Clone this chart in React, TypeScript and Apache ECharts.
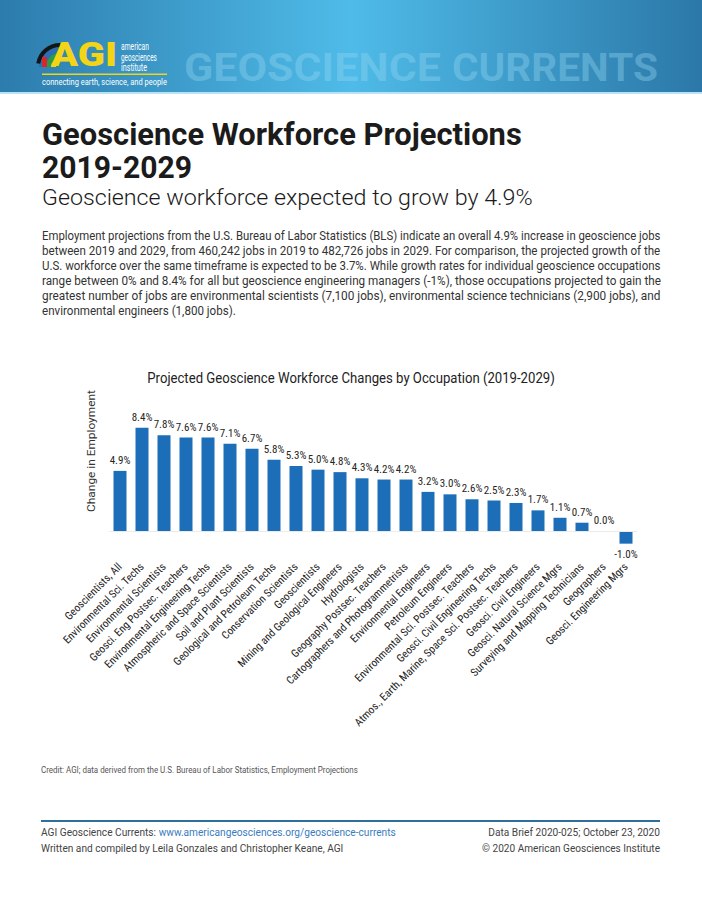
import React, { useEffect, useRef } from 'react';
import * as echarts from 'echarts';

// ---- data ----
const occupations = [
  'Geoscientists, All',
  'Environmental Sci. Techs',
  'Environmental Scientists',
  'Geosci. Eng Postsec. Teachers',
  'Environmental Engineering Techs',
  'Atmospheric and Space Scientists',
  'Soil and Plant Scientists',
  'Geological and Petroleum Techs',
  'Conservation Scientists',
  'Geoscientists',
  'Mining and Geological Engineers',
  'Hydrologists',
  'Geography Postsec. Teachers',
  'Cartographers and Photogrammetrists',
  'Environmental Engineers',
  'Petroleum Engineers',
  'Environmental Sci. Postsec. Teachers',
  'Geosci. Civil Engineering Techs',
  'Atmos., Earth, Marine, Space Sci. Postsec. Teachers',
  'Geosci. Civil Engineers',
  'Geosci. Natural Science Mgrs',
  'Surveying and Mapping Technicians',
  'Geographers',
  'Geosci. Engineering Mgrs',
];

const changePct = [
  4.9, 8.4, 7.8, 7.6, 7.6, 7.1, 6.7, 5.8, 5.3, 5.0, 4.8, 4.3,
  4.2, 4.2, 3.2, 3.0, 2.6, 2.5, 2.3, 1.7, 1.1, 0.7, 0.0, -1.0,
];

const pageTitle = ['Geoscience Workforce Projections', '2019-2029'];
const pageSubtitle = 'Geoscience workforce expected to grow by 4.9%';
const bodyLines = [
  'Employment projections from the U.S. Bureau of Labor Statistics (BLS) indicate an overall 4.9% increase in geoscience jobs',
  'between 2019 and 2029, from 460,242 jobs in 2019 to 482,726 jobs in 2029. For comparison, the projected growth of the',
  'U.S. workforce over the same timeframe is expected to be 3.7%. While growth rates for individual geoscience occupations',
  'range between 0% and 8.4% for all but geoscience engineering managers (-1%), those occupations projected to gain the',
  'greatest number of jobs are environmental scientists (7,100 jobs), environmental science technicians (2,900 jobs), and',
  'environmental engineers (1,800 jobs).',
];
const chartTitle = 'Projected Geoscience Workforce Changes by Occupation (2019-2029)';
const yAxisName = 'Change in Employment';
const creditText = 'Credit: AGI; data derived from the U.S. Bureau of Labor Statistics, Employment Projections';
const footerLeft = ['AGI Geoscience Currents: ', 'www.americangeosciences.org/geoscience-currents'];
const footerLeft2 = 'Written and compiled by Leila Gonzales and Christopher Keane, AGI';
const footerRight = ['Data Brief 2020-025; October 23, 2020', '\u00a9 2020 American Geosciences Institute'];

// ---- styling ----
const W = 702;
const H = 908;
const BAR_BLUE = '#1d6eb9';
const NARROW = "'Roboto Condensed','Liberation Sans Narrow','Arial Narrow',Roboto,sans-serif";

let measureCtx: CanvasRenderingContext2D | null = null;
function textWidth(text: string, font: string): number {
  if (!measureCtx) measureCtx = document.createElement('canvas').getContext('2d');
  measureCtx!.font = font;
  return measureCtx!.measureText(text).width;
}

type TOpts = {
  size: number;
  weight?: string | number;
  color?: string;
  family?: string;
  align?: 'left' | 'center' | 'right';
  fit?: number;
  scale?: number;
  rotation?: number;
  opacity?: number;
};

function fitScale(text: string, o: TOpts): number {
  const family = o.family ?? 'Roboto';
  const weight = o.weight ?? 'normal';
  if (!o.fit) return o.scale ?? 1;
  return o.fit / textWidth(text, `${weight} ${o.size}px ${family}`);
}

function txt(text: string, x: number, y: number, o: TOpts): any {
  return {
    type: 'text',
    x,
    y,
    scaleX: fitScale(text, o),
    rotation: o.rotation ?? 0,
    silent: true,
    style: {
      text,
      x: 0,
      y: 0,
      fill: o.color ?? '#222',
      fontSize: o.size,
      fontFamily: o.family ?? 'Roboto',
      fontWeight: o.weight ?? 'normal',
      align: o.align ?? 'left',
      verticalAlign: 'middle',
      opacity: o.opacity ?? 1,
    },
  };
}

function buildHeader(): any[] {
  const els: any[] = [];
  els.push({
    type: 'rect',
    shape: { x: 0, y: 0, width: W, height: 93 },
    silent: true,
    style: {
      fill: new echarts.graphic.LinearGradient(0, 0, 1, 0, [
        { offset: 0, color: '#2c7cad' },
        { offset: 0.5, color: '#4fbbe8' },
        { offset: 1, color: '#2b78a8' },
      ]),
    },
  });
  els.push({
    type: 'rect',
    shape: { x: 0, y: 92, width: W, height: 2 },
    silent: true,
    style: { fill: '#b9e3f4' },
  });
  // masthead words
  els.push(txt('GEOSCIENCE', 184, 68, { size: 38, weight: 'bold', color: 'rgba(150,215,242,0.38)', fit: 257 }));
  els.push(txt('CURRENTS', 452, 68, { size: 38, weight: 'bold', color: 'rgba(150,215,242,0.38)', fit: 206 }));

  // emblem
  els.push({ type: 'sector', silent: true, shape: { cx: 60, cy: 67, r: 21, r0: 0, startAngle: Math.PI, endAngle: Math.PI * 1.5 }, style: { fill: '#2a6fb4' } });
  els.push({ type: 'sector', silent: true, shape: { cx: 60, cy: 67, r: 24, r0: 20, startAngle: Math.PI * 1.05, endAngle: Math.PI * 1.5 }, style: { fill: '#151515' } });
  els.push({ type: 'sector', silent: true, shape: { cx: 60, cy: 67, r: 14, r0: 0, startAngle: Math.PI, endAngle: Math.PI * 1.5 }, style: { fill: '#2f9a48' } });
  els.push({ type: 'sector', silent: true, shape: { cx: 60, cy: 67, r: 9, r0: 4, startAngle: Math.PI, endAngle: Math.PI * 1.5 }, style: { fill: '#f2d21c' } });
  els.push({ type: 'rect', silent: true, shape: { x: 42, y: 57, width: 5, height: 10 }, style: { fill: '#d8262b' } });

  // AGI wordmark
  els.push(txt('AGI', 51, 55, { size: 34, weight: 900, color: '#f4d417', fit: 66 }));
  els.push(txt('american', 121, 46.5, { size: 10, color: '#ffffff', fit: 28 }));
  els.push(txt('geosciences', 121, 57.5, { size: 10, color: '#ffffff', fit: 36 }));
  els.push(txt('institute', 121, 68, { size: 10, color: '#ffffff', fit: 26 }));
  els.push({ type: 'rect', silent: true, shape: { x: 42, y: 73.5, width: 125, height: 1.5 }, style: { fill: '#f4d417' } });
  els.push(txt('connecting earth, science, and people', 42, 81.5, { size: 9, color: '#ffffff', fit: 125 }));
  return els;
}

function buildText(): any[] {
  const els: any[] = [];
  els.push(txt(pageTitle[0], 42, 134, { size: 31, weight: 'bold', color: '#1b1b1b', fit: 480 }));
  els.push(txt(pageTitle[1], 42, 167, { size: 31, weight: 'bold', color: '#1b1b1b', fit: 150 }));
  els.push(txt(pageSubtitle, 42, 198, { size: 22, weight: 300, color: '#1a1a1a', fit: 491 }));

  const bodyScales = bodyLines.slice(0, -1).map((l) => fitScale(l, { size: 12.5, fit: 619 }));
  const avgScale = bodyScales.reduce((a, b) => a + b, 0) / bodyScales.length;
  bodyLines.forEach((line, i) => {
    const last = i === bodyLines.length - 1;
    els.push(
      txt(line, 42, 236 + i * 15, {
        size: 12.5,
        color: '#333',
        fit: last ? undefined : 619,
        scale: last ? avgScale : undefined,
      })
    );
  });

  els.push(txt(chartTitle, 351, 378, { size: 15, color: '#222', align: 'center', fit: 408 }));
  els.push(txt(yAxisName, 91, 451, { size: 11, color: '#333', align: 'center', fit: 122, rotation: Math.PI / 2 }));

  els.push(txt(creditText, 41, 770, { size: 8.5, color: '#555', fit: 317 }));
  els.push({ type: 'rect', silent: true, shape: { x: 41, y: 820, width: 619, height: 2 }, style: { fill: '#2e6f9b' } });

  const footScale = fitScale(footerLeft.join(''), { size: 11, fit: 355 });
  const prefixW = textWidth(footerLeft[0], 'normal 11px Roboto') * footScale;
  els.push(txt(footerLeft[0], 41, 832, { size: 11, color: '#444', scale: footScale }));
  els.push(txt(footerLeft[1], 41 + prefixW, 832, { size: 11, color: '#3a7cc0', scale: footScale }));
  els.push(txt(footerLeft2, 41, 848, { size: 11, color: '#444', fit: 303 }));
  els.push(txt(footerRight[0], 660, 832, { size: 11, color: '#444', align: 'right', fit: 172 }));
  els.push(txt(footerRight[1], 660, 848, { size: 11, color: '#444', align: 'right', fit: 178 }));
  return els;
}

export default function App() {
  const ref = useRef<HTMLDivElement>(null);

  useEffect(() => {
    if (!ref.current) return;
    const chart = echarts.init(ref.current, undefined, { renderer: 'svg', width: W, height: H });

    const barData = changePct.map((v) =>
      v < 0 ? { value: v, label: { position: 'bottom' as const, distance: 5 } } : v
    );

    chart.setOption({
      animation: false,
      backgroundColor: '#ffffff',
      graphic: { elements: [...buildHeader(), ...buildText()] },
      grid: { left: 109, right: 65, top: 408, bottom: 352, containLabel: false },
      xAxis: {
        type: 'category',
        data: occupations,
        axisLine: { show: false },
        axisTick: { show: false },
        axisLabel: {
          rotate: 45,
          interval: 0,
          margin: 9,
          fontSize: 11,
          color: '#222',
          fontFamily: NARROW,
        },
      },
      yAxis: {
        type: 'value',
        min: -2,
        max: 10,
        show: false,
      },
      series: [
        {
          type: 'bar',
          data: barData,
          barWidth: 13,
          itemStyle: { color: BAR_BLUE },
          label: {
            show: true,
            position: 'top',
            distance: 5,
            fontSize: 11,
            color: '#262626',
            fontFamily: NARROW,
            formatter: (p: any) => `${Number(p.value).toFixed(1)}%`,
          },
          markLine: {
            silent: true,
            symbol: 'none',
            label: { show: false },
            lineStyle: { color: '#ebebeb', width: 1, type: 'solid' },
            data: [{ yAxis: 0 }],
          },
        },
      ],
    });

    return () => chart.dispose();
  }, []);

  return (
    <div
      ref={ref}
      style={{ position: 'absolute', left: 0, top: 0, width: W, height: H, background: '#fff' }}
    />
  );
}
